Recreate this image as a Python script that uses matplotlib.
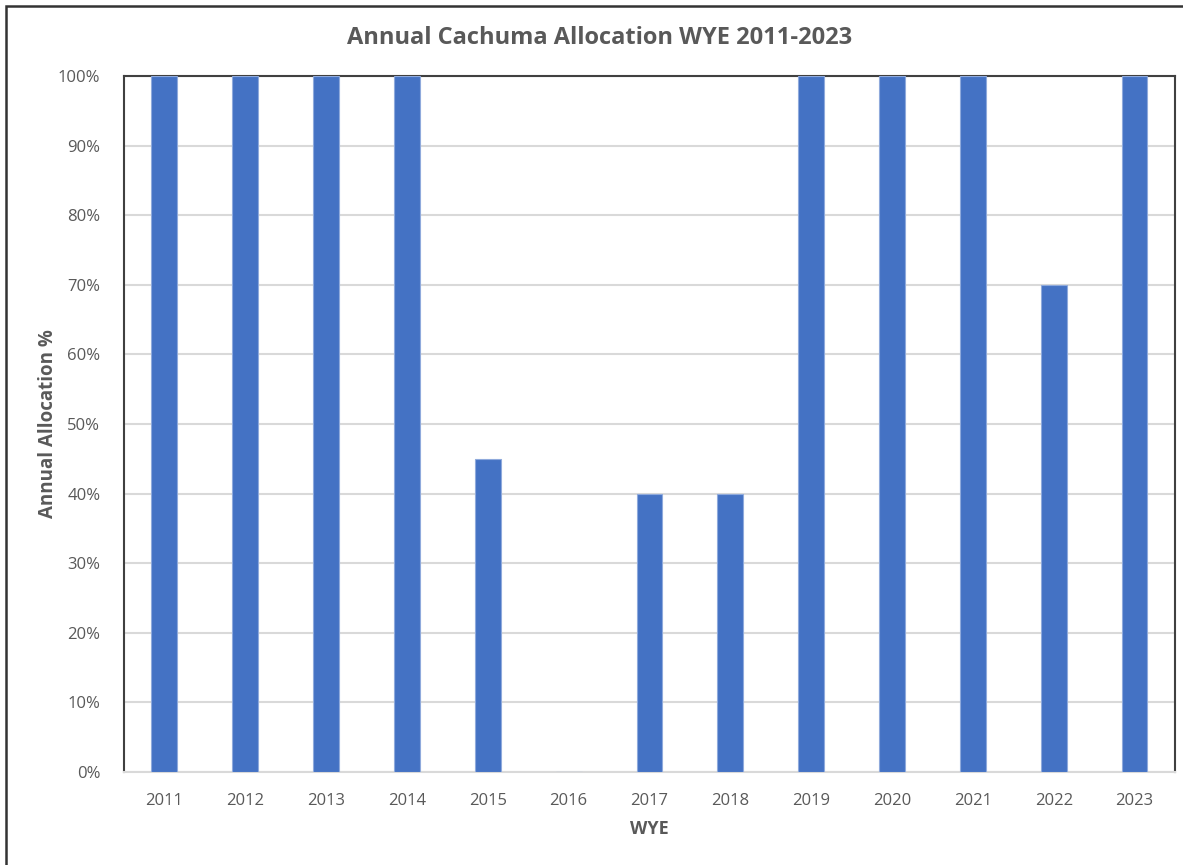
import matplotlib
matplotlib.use("Agg")
from matplotlib import pyplot as plt
from matplotlib.patches import Rectangle
from matplotlib.ticker import PercentFormatter

# Water year end and the annual allocation (%)
years = ['2011', '2012', '2013', '2014', '2015', '2016', '2017',
         '2018', '2019', '2020', '2021', '2022', '2023']
allocation = [100, 100, 100, 100, 45, 0, 40, 40, 100, 100, 100, 70, 100]

text_color = '#595959'
bar_color = '#4472C4'

plt.rcParams['font.family'] = ['Open Sans', 'DejaVu Sans']

fig = plt.figure(figsize=(11.83, 8.65), dpi=100)
ax = fig.add_axes([0.1048, 0.1075, 0.8884, 0.8046])

x = range(len(years))
ax.bar(x, allocation, width=0.32, color=bar_color, edgecolor='#8FAADC',
       linewidth=0.8, zorder=3)

ax.set_xlim(-0.5, len(years) - 0.5)
ax.set_ylim(0, 100)
ax.set_yticks(range(0, 101, 10))
ax.yaxis.set_major_formatter(PercentFormatter(decimals=0))
ax.set_xticks(list(x))
ax.set_xticklabels(years)

# Light horizontal gridlines behind the bars
ax.grid(axis='y', color='#d9d9d9', linewidth=1.5, zorder=0)
ax.tick_params(axis='both', length=0, labelsize=12, colors=text_color)
ax.tick_params(axis='x', pad=15)
ax.tick_params(axis='y', pad=17)

for side in ['left', 'top', 'right']:
    ax.spines[side].set_color('#404040')
    ax.spines[side].set_linewidth(1.5)
ax.spines['bottom'].set_color('#d9d9d9')
ax.spines['bottom'].set_linewidth(1.5)

# Title centred on the whole chart rather than on the plot area
fig.text(0.507, 0.956, 'Annual Cachuma Allocation WYE 2011-2023', fontsize=17,
         fontweight='bold', color=text_color, ha='center', va='center')
ax.set_xlabel('WYE', fontsize=13, fontweight='bold', color=text_color,
              labelpad=8)
ax.set_ylabel('Annual Allocation %', fontsize=13.5, fontweight='bold',
              color=text_color, labelpad=0)

# Frame around the whole chart
fig.patches.append(Rectangle((0.005, -0.02), 1.1, 1.013, transform=fig.transFigure,
                             fill=False, edgecolor='#333333', linewidth=1.8))

fig.savefig('out.png', dpi=100)
